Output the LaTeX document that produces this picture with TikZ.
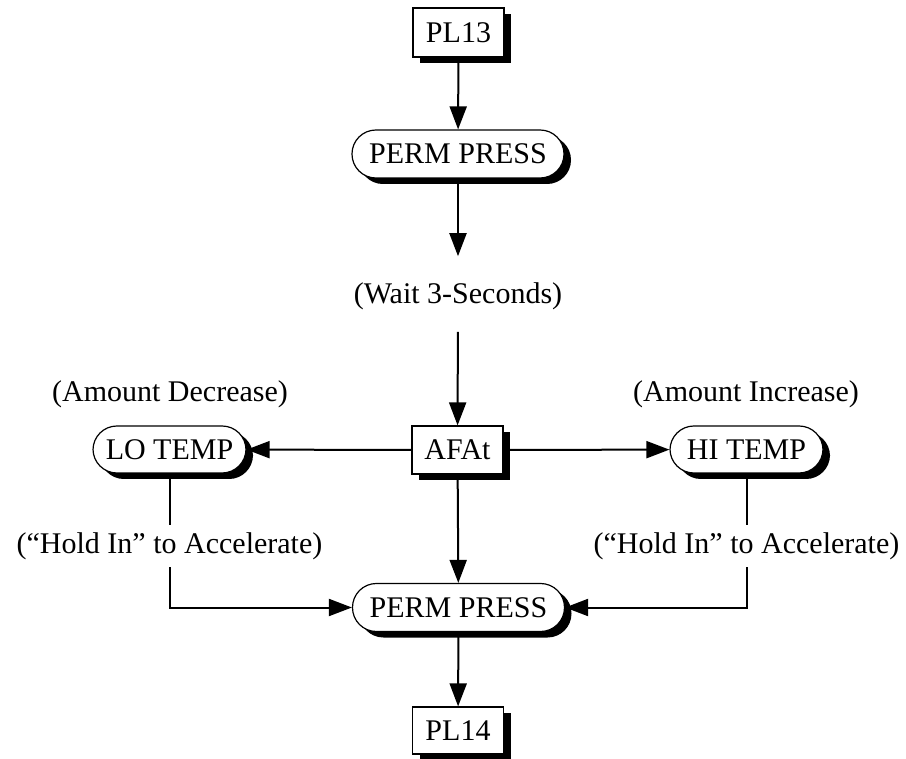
\documentclass[tikz,border=0pt]{standalone}
\usepackage{fontspec}
\setmainfont{Liberation Serif}
\usetikzlibrary{arrows.meta,shadows}
\begin{document}
\begin{tikzpicture}[x=1pt,y=-1pt,
  font=\fontsize{30}{36}\selectfont,
  shad/.style={drop shadow={shadow xshift=7pt,shadow yshift=-6pt,fill=black,opacity=1}},
  sqbox/.style={draw,line width=1.2pt,fill=white,inner sep=0pt,minimum width=91pt,minimum height=49pt,shad},
  pill/.style={draw,line width=1.2pt,fill=white,inner sep=0pt,minimum height=48pt,rounded corners=23.9pt,shad},
  lbl/.style={inner sep=0pt},
  arr/.style={line width=2pt,-{Triangle[length=23pt,width=17pt]}},
  conn/.style={line width=2pt}]
\useasboundingbox (0,0) rectangle (906,759);
% nodes
\node[sqbox] (pl13) at (458.5,32.5) {PL13};
\node[pill,minimum width=212pt] (perm1) at (458,154) {PERM PRESS};
\node[lbl] (wait) at (458,296) {(Wait 3-Seconds)};
\node[sqbox,minimum height=48pt] (afat) at (457.5,450) {AFAt};
\node[pill,minimum width=153pt,minimum height=47pt] (lo) at (169.5,449.5) {LO TEMP};
\node[pill,minimum width=153pt,minimum height=47pt] (hi) at (746.5,449.5) {HI TEMP};
\node[lbl] (adec) at (170,394) {(Amount Decrease)};
\node[lbl] (ainc) at (746,394) {(Amount Increase)};
\node[pill,minimum width=212pt] (perm2) at (458.5,607.5) {PERM PRESS};
\node[sqbox,minimum height=47pt] (pl14) at (458,730.5) {PL14};
% connectors
\draw[arr] (pl13) -- (perm1);
\draw[arr,shorten >=26pt] (perm1) -- (wait);
\draw[arr,shorten <=22pt] (wait) -- (afat);
\draw[arr] (afat) -- (lo);
\draw[arr] (afat) -- (hi);
\draw[arr] (afat) -- (perm2);
\draw[arr] (lo.south) |- (perm2.west);
\draw[arr] (hi.south) |- (perm2.east);
\draw[arr] (perm2) -- (pl14);
% connector labels
\node[lbl,fill=white,inner ysep=7.5pt,inner xsep=1pt] (holdl) at (169.5,546) {(“Hold In” to Accelerate)};
\node[lbl,fill=white,inner ysep=7.5pt,inner xsep=1pt] (holdr) at (746.5,546) {(“Hold In” to Accelerate)};
\end{tikzpicture}
\end{document}
